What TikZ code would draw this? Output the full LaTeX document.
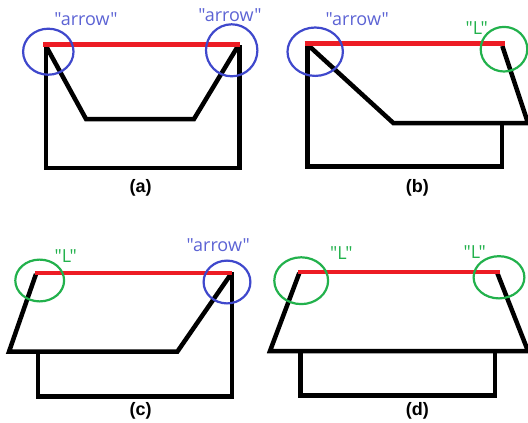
\documentclass[tikz,border=0pt]{standalone}
\usepackage{fontspec}
\setmainfont{Open Sans}[Ligatures=TeXOff]
\newfontfamily\capfont{Liberation Sans}
\definecolor{pblue}{HTML}{3F48CC}
\definecolor{pgreen}{HTML}{22B14C}
\definecolor{pred}{HTML}{ED1C24}
\tikzset{
  frame/.style={line width=4.5pt,black,line join=miter},
  top/.style={line width=4.5pt,pred},
  bluering/.style={line width=2.2pt,pblue},
  greenring/.style={line width=2.2pt,pgreen},
  arrowtxt/.style={text=pblue!85!white,font=\fontsize{18}{20}\selectfont,inner sep=0pt},
  ltxt/.style={text=pgreen,font=\fontsize{18}{20}\selectfont,inner sep=0pt},
  captxt/.style={font=\capfont\bfseries\fontsize{18}{20}\selectfont,inner sep=0pt}
}
\begin{document}
\begin{tikzpicture}[x=1pt,y=-1pt]
\useasboundingbox (0,0) rectangle (528,423);
\clip (0,0) rectangle (528,423);
% (a)
\draw[frame] (46,44.5) -- (46,168) -- (239.5,168) -- (239.5,44.5);
\draw[frame] (46,46) -- (86,119) -- (194,119) -- (238,46);
\draw[top] (43,44.5) -- (240,44.5);
\draw[bluering] (48.3,51.7) ellipse [x radius=25.2,y radius=23];
\draw[bluering] (231.7,50.3) ellipse [x radius=25.7,y radius=26];
\node[arrowtxt] (a1) at (86,19) {"arrow"};
\node[arrowtxt] (a2) at (230,15) {"arrow"};
\node[captxt] (capa) at (140.7,188) {(a)};
% (b)
\draw[frame] (307.7,44) -- (307.7,166.7) -- (502,166.7) -- (502,123);
\draw[frame] (308,45) -- (393.3,123) -- (528,123) -- (502.3,46);
\draw[top] (304.7,43.3) -- (505,43.3);
\draw[bluering] (315.2,51.7) ellipse [x radius=27.7,y radius=24.2];
\draw[greenring] (504,49.2) ellipse [x radius=23.3,y radius=22.3];
\node[arrowtxt] (b1) at (357.3,19) {"arrow"};
\node[ltxt] (b2) at (476.7,28) {"L"};
\node[captxt] (capb) at (417.3,188) {(b)};
% (c)
\draw[frame] (38,351.7) -- (38,396.3) -- (232,396.3) -- (232,272);
\draw[frame] (36,274) -- (9,351.7) -- (177.3,351.7) -- (231,274);
\draw[top] (35,273) -- (232.3,273);
\draw[greenring] (39.7,280.5) ellipse [x radius=24.4,y radius=20.9];
\draw[bluering] (227,282) ellipse [x radius=23.4,y radius=21.4];
\node[ltxt] (c1) at (65.7,256) {"L"};
\node[arrowtxt] (c2) at (218.3,245.3) {"arrow"};
\node[captxt] (capc) at (140.7,411) {(c)};
% (d)
\draw[frame] (300.7,351) -- (300.7,395.3) -- (495,395.3) -- (495,351);
\draw[frame] (299.3,273) -- (270,351) -- (528,351) -- (497.3,273);
\draw[top] (298,272) -- (499.7,272);
\draw[greenring] (301.2,280.7) ellipse [x radius=26.9,y radius=23.4];
\draw[greenring] (499,277.3) ellipse [x radius=25.4,y radius=21.1];
\node[ltxt] (d1) at (341.3,253.3) {"L"};
\node[ltxt] (d2) at (474.7,251.7) {"L"};
\node[captxt] (capd) at (417.3,411) {(d)};
\end{tikzpicture}
\end{document}
